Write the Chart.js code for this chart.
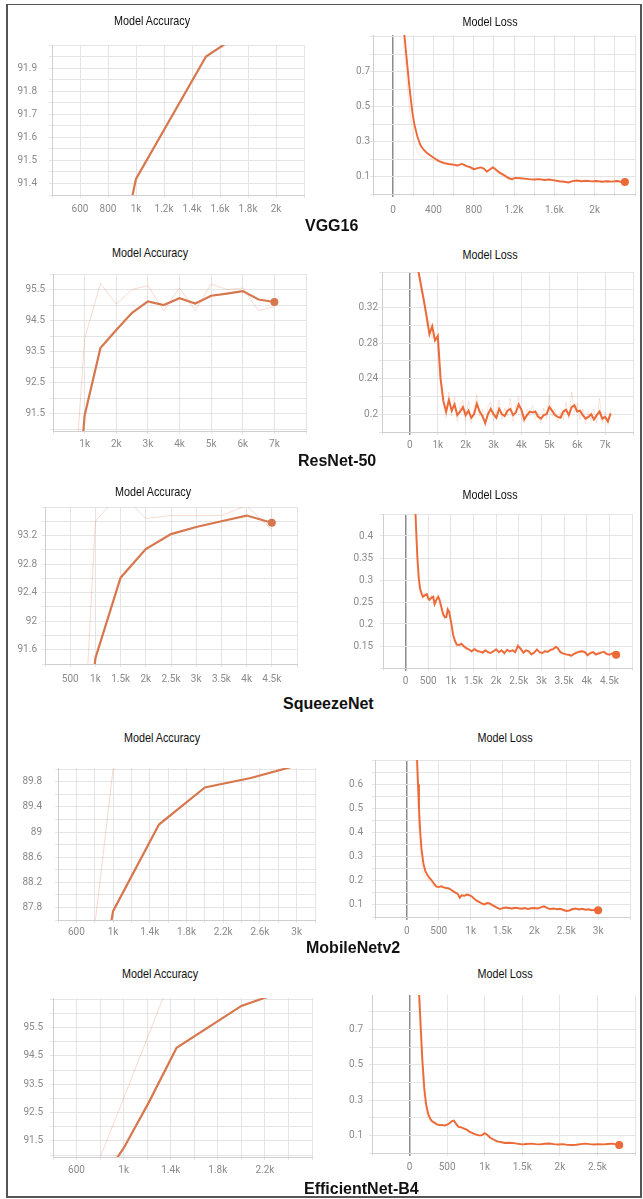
<!DOCTYPE html>
<html>
<head>
<meta charset="utf-8">
<script src="https://cdn.jsdelivr.net/npm/chart.js@4.4.1/dist/chart.umd.min.js"></script>
<style>
  html, body { margin: 0; padding: 0; background: #fff; }
  body { width: 643px; height: 1199px; position: relative; overflow: hidden; }
  #frame { position: absolute; left: 6px; top: 4px; width: 632px; height: 1191px; border: 2px solid #555; border-top-width: 1px; }
  canvas { position: absolute; }
  .ttl { position: absolute; width: 200px; text-align: center; font: 13px/13px 'Liberation Sans', Arial, sans-serif; color: #111; white-space: nowrap;
         transform: scaleX(0.83); transform-origin: 50% 50%; }
  .net { position: absolute; font: bold 16px/16px 'Liberation Sans', Arial, sans-serif; color: #111; white-space: nowrap; }
</style>
</head>
<body>
<div id="frame"></div>
<script>
// ---- VGG16 ----
const vggAccSteps = [500, 1000, 1500, 2000];
const vggAccSmooth = [90.0, 91.42, 91.95, 92.15];
const vggAccXLabels = [600, 800, 1000, 1200, 1400, 1600, 1800, 2000];
const vggAccYLabels = [91.4, 91.5, 91.6, 91.7, 91.8, 91.9];

const vggLossSteps = [100, 130, 160, 190, 210, 240, 270, 300, 330, 370, 410, 450, 500, 550, 600, 640, 680, 700, 730, 770,
  800, 840, 870, 900, 930, 960, 990, 1010, 1050, 1100, 1150, 1180, 1210, 1260, 1300, 1350, 1400, 1450, 1500, 1550,
  1600, 1650, 1700, 1740, 1780, 1820, 1870, 1920, 1970, 2020, 2070, 2120, 2170, 2220, 2260, 2300];
const vggLossSmooth = [0.98, 0.80, 0.62, 0.47, 0.40, 0.33, 0.28, 0.255, 0.238, 0.22, 0.205, 0.19, 0.178, 0.172, 0.168, 0.163, 0.172, 0.168, 0.16, 0.152,
  0.142, 0.148, 0.152, 0.145, 0.128, 0.14, 0.152, 0.145, 0.125, 0.108, 0.09, 0.085, 0.092, 0.09, 0.088, 0.085, 0.083, 0.085, 0.08, 0.083,
  0.078, 0.073, 0.07, 0.066, 0.074, 0.077, 0.073, 0.076, 0.072, 0.074, 0.07, 0.073, 0.071, 0.074, 0.07, 0.068];
const vggLossRaw = [0.9, 0.7, 0.5, 0.36, 0.3, 0.24, 0.22, 0.21, 0.215, 0.2, 0.19, 0.185, 0.17, 0.168, 0.16, 0.158, 0.18, 0.16, 0.155, 0.145,
  0.135, 0.152, 0.155, 0.138, 0.12, 0.148, 0.158, 0.14, 0.115, 0.1, 0.082, 0.082, 0.096, 0.088, 0.086, 0.082, 0.08, 0.087, 0.078, 0.085,
  0.075, 0.07, 0.068, 0.063, 0.077, 0.079, 0.071, 0.078, 0.07, 0.076, 0.068, 0.075, 0.069, 0.076, 0.069, 0.067];
const vggLossXLabels = [0, 400, 800, 1200, 1600, 2000];
const vggLossYLabels = [0.1, 0.3, 0.5, 0.7];

// ---- ResNet-50 ----
const resAccSteps = [500, 1000, 1500, 2000, 2500, 3000, 3500, 4000, 4500, 5000, 5500, 6000, 6500, 7000];
const resAccSmooth = [85.2, 91.45, 93.62, 94.2, 94.75, 95.12, 95.0, 95.22, 95.05, 95.3, 95.37, 95.45, 95.18, 95.1];
const resAccRaw = [86.5, 93.92, 95.7, 95.03, 95.5, 95.63, 94.82, 95.55, 94.82, 95.68, 95.5, 95.55, 94.82, 94.95];
const resAccXLabels = [1000, 2000, 3000, 4000, 5000, 6000, 7000];
const resAccYLabels = [91.5, 92.5, 93.5, 94.5, 95.5];

const resLossSteps = [300, 400, 500, 600, 700, 800, 900, 1000, 1100, 1200, 1300, 1400, 1500, 1600, 1700, 1800, 1900, 2000, 2100, 2200,
  2300, 2400, 2500, 2600, 2700, 2800, 2900, 3000, 3100, 3200, 3300, 3400, 3500, 3600, 3700, 3800, 3900, 4000, 4100, 4200,
  4300, 4400, 4500, 4600, 4700, 4800, 4900, 5000, 5100, 5200, 5300, 5400, 5500, 5600, 5700, 5800, 5900, 6000, 6100, 6200,
  6300, 6400, 6500, 6600, 6700, 6800, 6900, 7000, 7100, 7200];
const resLossSmooth = [0.362, 0.345, 0.328, 0.31, 0.29, 0.299, 0.283, 0.288, 0.24, 0.215, 0.203, 0.216, 0.204, 0.211, 0.199, 0.203, 0.208, 0.199, 0.204, 0.196,
  0.2, 0.212, 0.203, 0.198, 0.19, 0.2, 0.206, 0.2, 0.196, 0.206, 0.2, 0.198, 0.204, 0.206, 0.199, 0.202, 0.211, 0.205, 0.194, 0.199,
  0.203, 0.202, 0.203, 0.197, 0.195, 0.199, 0.2, 0.208, 0.204, 0.199, 0.197, 0.196, 0.203, 0.205, 0.199, 0.208, 0.21, 0.203, 0.204, 0.199,
  0.195, 0.197, 0.2, 0.194, 0.199, 0.203, 0.195, 0.197, 0.192, 0.201];
const resLossRaw = [0.358, 0.338, 0.332, 0.3, 0.305, 0.285, 0.292, 0.28, 0.235, 0.21, 0.196, 0.225, 0.198, 0.22, 0.192, 0.21, 0.216, 0.193, 0.215, 0.19,
  0.205, 0.222, 0.198, 0.206, 0.186, 0.208, 0.214, 0.192, 0.204, 0.216, 0.194, 0.207, 0.198, 0.218, 0.192, 0.21, 0.22, 0.196, 0.19, 0.206,
  0.198, 0.21, 0.194, 0.202, 0.19, 0.207, 0.195, 0.222, 0.198, 0.206, 0.191, 0.202, 0.194, 0.214, 0.194, 0.225, 0.202, 0.212, 0.194, 0.206,
  0.189, 0.203, 0.193, 0.206, 0.19, 0.218, 0.191, 0.202, 0.188, 0.206];
const resLossXLabels = [0, 1000, 2000, 3000, 4000, 5000, 6000, 7000];
const resLossYLabels = [0.2, 0.24, 0.28, 0.32];

// ---- SqueezeNet ----
const sqzAccSteps = [500, 1000, 1500, 2000, 2500, 3000, 3500, 4000, 4500];
const sqzAccSmooth = [88.0, 91.48, 92.61, 93.01, 93.22, 93.32, 93.4, 93.48, 93.38];
const sqzAccRaw = [86.7, 93.4, 93.8, 93.44, 93.48, 93.48, 93.48, 93.62, 93.28];
const sqzAccXLabels = [500, 1000, 1500, 2000, 2500, 3000, 3500, 4000, 4500];
const sqzAccYLabels = [91.6, 92, 92.4, 92.8, 93.2];

const sqzLossSteps = [200, 230, 260, 290, 320, 350, 380, 420, 470, 500, 530, 570, 610, 640, 680, 720, 750, 790, 830, 870,
  900, 930, 960, 990, 1020, 1050, 1090, 1130, 1180, 1230, 1280, 1340, 1400, 1460, 1520, 1580, 1640, 1700, 1760, 1820,
  1880, 1940, 2000, 2060, 2120, 2180, 2240, 2300, 2360, 2420, 2480, 2540, 2600, 2660, 2720, 2780, 2840, 2900, 2960, 3020,
  3080, 3140, 3200, 3260, 3320, 3360, 3420, 3480, 3540, 3600, 3660, 3720, 3780, 3840, 3900, 3960, 4020, 4080, 4140, 4200,
  4260, 4320, 4380, 4440, 4500, 4560, 4620, 4650];
const sqzLossSmooth = [0.5, 0.42, 0.35, 0.305, 0.28, 0.27, 0.262, 0.265, 0.268, 0.258, 0.255, 0.26, 0.262, 0.245, 0.255, 0.262, 0.255, 0.238, 0.222, 0.215,
  0.216, 0.233, 0.228, 0.212, 0.195, 0.175, 0.162, 0.153, 0.152, 0.155, 0.15, 0.145, 0.142, 0.138, 0.143, 0.139, 0.137, 0.135, 0.14, 0.136,
  0.134, 0.138, 0.142, 0.136, 0.14, 0.134, 0.141, 0.138, 0.14, 0.136, 0.15, 0.144, 0.135, 0.14, 0.138, 0.131, 0.135, 0.142, 0.136, 0.134,
  0.138, 0.137, 0.141, 0.143, 0.148, 0.145, 0.136, 0.133, 0.131, 0.13, 0.128, 0.132, 0.135, 0.137, 0.138, 0.136, 0.129, 0.134, 0.136, 0.131,
  0.133, 0.135, 0.137, 0.132, 0.13, 0.133, 0.128, 0.13];
const sqzLossRaw = [0.48, 0.39, 0.33, 0.29, 0.27, 0.262, 0.258, 0.27, 0.262, 0.252, 0.262, 0.265, 0.25, 0.24, 0.262, 0.266, 0.245, 0.228, 0.214, 0.21,
  0.226, 0.238, 0.218, 0.205, 0.185, 0.165, 0.155, 0.148, 0.156, 0.151, 0.146, 0.141, 0.139, 0.135, 0.147, 0.134, 0.14, 0.132, 0.144, 0.131,
  0.137, 0.141, 0.146, 0.132, 0.143, 0.13, 0.145, 0.134, 0.143, 0.133, 0.155, 0.139, 0.132, 0.144, 0.134, 0.128, 0.139, 0.146, 0.132, 0.131,
  0.142, 0.134, 0.145, 0.146, 0.152, 0.14, 0.133, 0.13, 0.134, 0.127, 0.126, 0.136, 0.138, 0.134, 0.141, 0.132, 0.126, 0.138, 0.133, 0.128,
  0.136, 0.138, 0.134, 0.129, 0.133, 0.13, 0.126, 0.132];
const sqzLossXLabels = [0, 500, 1000, 1500, 2000, 2500, 3000, 3500, 4000, 4500];
const sqzLossYLabels = [0.15, 0.2, 0.25, 0.3, 0.35, 0.4];

// ---- MobileNetv2 ----
const mobAccSteps = [500, 1000, 1500, 2000, 2500, 3000];
const mobAccSmooth = [83.4, 87.74, 89.12, 89.71, 89.86, 90.06];
const mobAccRaw = [83.75, 90.0, 90.6, 90.8, 90.9, 91.0];
const mobAccXLabels = [600, 1000, 1400, 1800, 2200, 2600, 3000];
const mobAccYLabels = [87.8, 88.2, 88.6, 89, 89.4, 89.8];

const mobLossSteps = [140, 160, 175, 190, 210, 230, 260, 290, 320, 350, 385, 420, 460, 500, 540, 580, 620, 660, 700, 730,
  770, 800, 830, 860, 900, 940, 980, 1020, 1060, 1100, 1140, 1180, 1220, 1260, 1300, 1340, 1380, 1420, 1460, 1500,
  1550, 1600, 1650, 1700, 1750, 1800, 1850, 1900, 1950, 2000, 2050, 2100, 2150, 2200, 2250, 2300, 2350, 2400, 2450, 2500,
  2550, 2600, 2650, 2700, 2750, 2800, 2850, 2900, 2950, 3000];
const mobLossSmooth = [0.78, 0.7, 0.6, 0.5, 0.4, 0.33, 0.27, 0.24, 0.225, 0.213, 0.203, 0.19, 0.177, 0.174, 0.177, 0.173, 0.17, 0.168, 0.162, 0.156,
  0.15, 0.145, 0.13, 0.14, 0.138, 0.143, 0.14, 0.135, 0.125, 0.117, 0.112, 0.105, 0.102, 0.108, 0.106, 0.099, 0.094, 0.088, 0.083, 0.087,
  0.089, 0.087, 0.085, 0.088, 0.086, 0.084, 0.087, 0.083, 0.086, 0.087, 0.085, 0.09, 0.094, 0.088, 0.083, 0.085, 0.082, 0.084, 0.08, 0.075,
  0.077, 0.083, 0.085, 0.081, 0.084, 0.08, 0.082, 0.078, 0.08, 0.078];
const mobLossRaw = [0.72, 0.62, 0.52, 0.42, 0.33, 0.27, 0.23, 0.215, 0.205, 0.2, 0.19, 0.18, 0.17, 0.176, 0.18, 0.168, 0.172, 0.165, 0.158, 0.15,
  0.148, 0.14, 0.125, 0.145, 0.132, 0.148, 0.137, 0.13, 0.12, 0.112, 0.108, 0.1, 0.104, 0.112, 0.1, 0.096, 0.09, 0.085, 0.08, 0.09,
  0.086, 0.089, 0.082, 0.09, 0.084, 0.086, 0.083, 0.085, 0.088, 0.083, 0.088, 0.094, 0.091, 0.084, 0.08, 0.087, 0.079, 0.086, 0.077, 0.074,
  0.079, 0.086, 0.082, 0.083, 0.08, 0.082, 0.079, 0.08, 0.077, 0.079];
const mobLossXLabels = [0, 500, 1000, 1500, 2000, 2500, 3000];
const mobLossYLabels = [0.1, 0.2, 0.3, 0.4, 0.5, 0.6];

// ---- EfficientNet-B4 ----
const effAccSteps = [500, 1000, 1215, 1450, 2000, 2200, 2500];
const effAccSmooth = [88.2, 91.24, 92.87, 94.79, 96.27, 96.56, 96.9];
const effAccRawSteps = [500, 1000, 1500];
const effAccRaw = [87.8, 93.0, 98.3];
const effAccXLabels = [600, 1000, 1400, 1800, 2200];
const effAccYLabels = [91.5, 92.5, 93.5, 94.5, 95.5];

const effLossSteps = [110, 130, 150, 170, 195, 220, 250, 280, 300, 330, 365, 400, 430, 470, 500, 530, 560, 590, 620, 650,
  690, 720, 760, 800, 840, 880, 920, 960, 1000, 1030, 1070, 1110, 1160, 1210, 1270, 1330, 1390, 1450, 1500, 1560,
  1620, 1680, 1740, 1800, 1860, 1920, 1980, 2040, 2100, 2160, 2220, 2280, 2340, 2400, 2460, 2520, 2580, 2640, 2700, 2750, 2790];
const effLossSmooth = [1.0, 0.88, 0.7, 0.53, 0.37, 0.275, 0.218, 0.19, 0.18, 0.172, 0.162, 0.158, 0.159, 0.156, 0.16, 0.168, 0.18, 0.184, 0.165, 0.148,
  0.145, 0.14, 0.132, 0.12, 0.112, 0.105, 0.1, 0.1, 0.112, 0.105, 0.088, 0.078, 0.067, 0.062, 0.057, 0.058, 0.056, 0.052, 0.049, 0.051,
  0.053, 0.05, 0.049, 0.052, 0.054, 0.05, 0.048, 0.05, 0.046, 0.045, 0.047, 0.05, 0.053, 0.05, 0.048, 0.05, 0.049, 0.051, 0.053, 0.049, 0.045];
const effLossRaw = [0.92, 0.78, 0.6, 0.45, 0.3, 0.235, 0.2, 0.18, 0.172, 0.168, 0.158, 0.155, 0.16, 0.152, 0.158, 0.172, 0.185, 0.178, 0.158, 0.145,
  0.142, 0.136, 0.128, 0.116, 0.108, 0.102, 0.097, 0.102, 0.115, 0.098, 0.082, 0.072, 0.063, 0.06, 0.055, 0.06, 0.054, 0.05, 0.047, 0.053,
  0.054, 0.048, 0.05, 0.054, 0.055, 0.048, 0.047, 0.052, 0.044, 0.046, 0.049, 0.052, 0.054, 0.048, 0.047, 0.052, 0.048, 0.053, 0.054, 0.047, 0.044];
const effLossXLabels = [0, 500, 1000, 1500, 2000, 2500];
const effLossYLabels = [0.1, 0.3, 0.5, 0.7];

// layout: plot box [left, top, right, bottom] in page px, axis ranges, grid steps, label gaps
const ACC = '#d7774d', LOSS = '#ec6a37';
const ACC_RAW = 'rgba(230, 140, 110, 0.32)', LOSS_RAW = 'rgba(236, 140, 105, 0.22)';

const panels = [
  { box: [52, 35, 304, 195], x: [400, 2200, 200], y: [91.35, 92.0, 0.05], xl: vggAccXLabels, yl: vggAccYLabels, xGap: 14, yGap: 15,
    steps: vggAccSteps, smooth: vggAccSmooth, color: ACC, width: 2.2 },
  { box: [373, 35, 635, 194], x: [-200, 2400, 200], y: [0, 0.91, 0.1], xl: vggLossXLabels, yl: vggLossYLabels, xGap: 16, yGap: 3, zero: true,
    steps: vggLossSteps, smooth: vggLossSmooth, raw: vggLossRaw, color: LOSS, rawColor: LOSS_RAW, width: 1.9, dot: true },
  { box: [53, 271, 306, 431], x: [0, 8000, 1000], y: [90.95, 96.0, 0.5], xl: resAccXLabels, yl: resAccYLabels, xGap: 13, yGap: 8,
    steps: resAccSteps, smooth: resAccSmooth, raw: resAccRaw, color: ACC, rawColor: ACC_RAW, width: 2.2, dot: true },
  { box: [382, 272, 633, 432], x: [-1000, 8000, 1000], y: [0.18, 0.36, 0.02], xl: resLossXLabels, yl: resLossYLabels, xGap: 13, yGap: 4, zero: true,
    steps: resLossSteps, smooth: resLossSmooth, raw: resLossRaw, color: LOSS, rawColor: LOSS_RAW, width: 2 },
  { box: [45, 504, 297, 664], x: [0, 5000, 500], y: [91.4, 93.6, 0.2], xl: sqzAccXLabels, yl: sqzAccYLabels, xGap: 15, yGap: 8,
    steps: sqzAccSteps, smooth: sqzAccSmooth, raw: sqzAccRaw, color: ACC, rawColor: ACC_RAW, width: 2.2, dot: true },
  { box: [383, 509, 632, 668], x: [-500, 5000, 500], y: [0.1, 0.45, 0.05], xl: sqzLossXLabels, yl: sqzLossYLabels, xGap: 13, yGap: 10, zero: true,
    steps: sqzLossSteps, smooth: sqzLossSmooth, raw: sqzLossRaw, color: LOSS, rawColor: LOSS_RAW, width: 1.9, dot: true },
  { box: [58, 757, 315, 920], x: [400, 3200, 200], y: [87.6, 90.02, 0.2], xl: mobAccXLabels, yl: mobAccYLabels, xGap: 12, yGap: 16,
    steps: mobAccSteps, smooth: mobAccSmooth, raw: mobAccRaw, color: ACC, rawColor: ACC_RAW, width: 2.2 },
  { box: [375, 753, 630, 917], x: [-500, 3500, 500], y: [0.05, 0.7, 0.05], xl: mobLossXLabels, yl: mobLossYLabels, xGap: 14, yGap: 12, zero: true,
    steps: mobLossSteps, smooth: mobLossSmooth, raw: mobLossRaw, color: LOSS, rawColor: LOSS_RAW, width: 1.9, dot: true },
  { box: [53, 993, 312, 1157], x: [400, 2600, 200], y: [90.93, 96.55, 0.5], xl: effAccXLabels, yl: effAccYLabels, xGap: 13, yGap: 10,
    steps: effAccSteps, smooth: effAccSmooth, rawSteps: effAccRawSteps, raw: effAccRaw, color: ACC, rawColor: ACC_RAW, width: 2.2 },
  { box: [372, 991, 635, 1153], x: [-500, 3000, 500], y: [0, 0.895, 0.1], xl: effLossXLabels, yl: effLossYLabels, xGap: 14, yGap: 9, zero: true,
    steps: effLossSteps, smooth: effLossSmooth, raw: effLossRaw, color: LOSS, rawColor: LOSS_RAW, width: 1.9, dot: true }
];

const titles = [
  ['Model Accuracy', 152, 16], ['Model Loss', 490, 17],
  ['Model Accuracy', 150, 248], ['Model Loss', 490, 250],
  ['Model Accuracy', 153, 487], ['Model Loss', 490, 490],
  ['Model Accuracy', 162, 733], ['Model Loss', 505, 733],
  ['Model Accuracy', 160, 969], ['Model Loss', 505, 969]
];
const netNames = [
  ['VGG16', 305, 220], ['ResNet-50', 298, 455], ['SqueezeNet', 283, 698],
  ['MobileNetv2', 306, 942], ['EfficientNet-B4', 304, 1183]
];

Chart.defaults.font.family = 'Roboto, "Liberation Sans", sans-serif';
Chart.defaults.font.size = 10;
Chart.defaults.color = '#8a8a8a';

const ML = 50, MR = 8, MT = 8, MB = 26, TICK = 3;

const fmtX = v => v >= 1000 ? (+(v / 1000).toFixed(1)) + 'k' : String(v);
const fmtY = v => String(+v.toFixed(3));
const has = (arr, v) => arr.some(a => Math.abs(a - v) < 1e-6);

function gridValues(min, max, step) {
    const out = [];
    let k = Math.ceil(min / step - 1e-6);
    while (true) {
        const v = +(k * step).toFixed(6);
        if (v > max + 1e-9) break;
        out.push(v);
        k++;
    }
    return out;
}

function toPoints(xs, ys) {
    return xs.map((x, i) => ({ x: x, y: ys[i] }));
}

function drawPanel(p) {
    const w = p.box[2] - p.box[0] + ML + MR;
    const h = p.box[3] - p.box[1] + MT + MB;
    const cv = document.createElement('canvas');
    cv.width = w;
    cv.height = h;
    cv.style.left = (p.box[0] - ML) + 'px';
    cv.style.top = (p.box[1] - MT) + 'px';
    cv.style.width = w + 'px';
    cv.style.height = h + 'px';
    document.body.appendChild(cv);

    const n = p.smooth.length;
    const datasets = [{
        data: toPoints(p.steps, p.smooth),
        borderColor: p.color,
        borderWidth: p.width,
        backgroundColor: p.color,
        pointRadius: ctx => (p.dot && ctx.dataIndex === n - 1) ? 4 : 0,
        pointBorderWidth: 0,
        tension: 0,
        clip: 0
    }];
    if (p.raw) {
        datasets.push({
            data: toPoints(p.rawSteps || p.steps, p.raw),
            borderColor: p.rawColor,
            borderWidth: 1,
            pointRadius: 0,
            tension: 0,
            clip: 0
        });
    }

    const gridColor = ctx => (p.zero && ctx.tick && Math.abs(ctx.tick.value) < 1e-9) ? '#8c8c8c' : '#e4e4e4';
    const gridWidth = ctx => (p.zero && ctx.tick && Math.abs(ctx.tick.value) < 1e-9) ? 1.5 : 1;

    new Chart(cv, {
        type: 'line',
        data: { datasets: datasets },
        options: {
            responsive: false,
            animation: false,
            devicePixelRatio: 1,
            layout: { padding: { left: 0, top: MT, right: MR, bottom: 0 } },
            plugins: { legend: { display: false }, tooltip: { enabled: false } },
            scales: {
                x: {
                    type: 'linear',
                    min: p.x[0],
                    max: p.x[1],
                    afterBuildTicks: s => { s.ticks = gridValues(p.x[0], p.x[1], p.x[2]).map(v => ({ value: v })); },
                    afterFit: s => { s.height = MB; },
                    grid: { color: gridColor, lineWidth: gridWidth, tickLength: TICK },
                    border: { color: '#cfcfcf' },
                    ticks: {
                        autoSkip: false, maxRotation: 0, minRotation: 0,
                        padding: Math.max(0, p.xGap - TICK - 6),
                        callback: v => has(p.xl, v) ? fmtX(v) : ''
                    }
                },
                y: {
                    type: 'linear',
                    min: p.y[0],
                    max: p.y[1],
                    afterBuildTicks: s => { s.ticks = gridValues(p.y[0], p.y[1], p.y[2]).map(v => ({ value: v })); },
                    afterFit: s => { s.width = ML; },
                    grid: { color: '#e4e4e4', tickLength: TICK },
                    border: { color: '#cfcfcf' },
                    ticks: {
                        autoSkip: false,
                        padding: Math.max(0, p.yGap - TICK),
                        callback: v => has(p.yl, v) ? fmtY(v) : ''
                    }
                }
            }
        }
    });
}

panels.forEach(drawPanel);

titles.forEach(t => {
    const d = document.createElement('div');
    d.className = 'ttl';
    d.textContent = t[0];
    d.style.left = (t[1] - 100) + 'px';
    d.style.top = (t[2] - 2) + 'px';
    document.body.appendChild(d);
});

netNames.forEach(t => {
    const d = document.createElement('div');
    d.className = 'net';
    d.textContent = t[0];
    d.style.left = t[1] + 'px';
    d.style.top = (t[2] - 2) + 'px';
    document.body.appendChild(d);
});
</script>
</body>
</html>
